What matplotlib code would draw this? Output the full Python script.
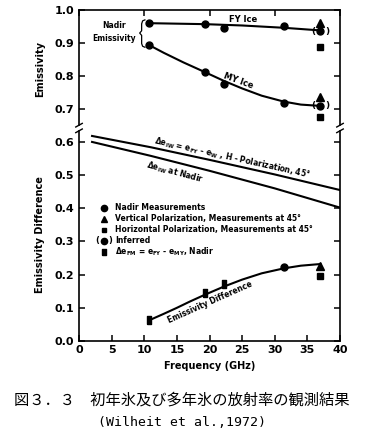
import matplotlib
matplotlib.use("Agg")
import matplotlib.pyplot as plt

plt.rcParams["font.family"] = ["DejaVu Sans"]
plt.rcParams["font.weight"] = "bold"
plt.rcParams["mathtext.default"] = "bf"

# ---- data ----
freq = [10.7, 19.35, 22.2, 31.4, 37.0]

# nadir emissivity (top panel), last point is the inferred value
fy_nadir = [0.960, 0.957, 0.946, 0.951, 0.936]
my_nadir = [0.894, 0.811, 0.776, 0.717, 0.709]

# drawn curves through the points
fy_curve_freq = [10.7, 19.35, 25.0, 31.4, 37.0]
fy_curve = [0.960, 0.957, 0.953, 0.946, 0.938]
my_curve_freq = [10.7, 13.0, 16.0, 19.35, 22.2, 25.0, 28.0, 31.4, 34.0, 37.0]
my_curve = [0.894, 0.870, 0.841, 0.811, 0.785, 0.762, 0.740, 0.722, 0.713, 0.709]

# 37 GHz measurements at 45 deg
pol_freq = [37.0]
fy_vpol = [0.960]
fy_hpol = [0.889]
my_vpol = [0.735]
my_hpol = [0.676]

# ice - water emissivity difference lines
iw_freq = [2, 11, 20, 30, 40]
iw_hpol = [0.618, 0.584, 0.546, 0.502, 0.455]
iw_nadir = [0.600, 0.558, 0.513, 0.460, 0.402]

# FY - MY emissivity difference
diff_freq = [10.7, 19.35, 22.2]
diff_vals = [0.064, 0.144, 0.171]
diff_circ_freq = [31.4]
diff_circ = [0.222]
diff_vpol = [0.225]
diff_hpol = [0.197]
diff_curve_freq = [10.7, 13.0, 15.0, 17.0, 19.35, 22.2, 25.0, 28.0, 31.4, 34.0, 37.0]
diff_curve = [0.062, 0.082, 0.100, 0.119, 0.140, 0.164, 0.185, 0.204, 0.219, 0.227, 0.232]

legend_labels = [
    "Nadir Measurements",
    "Vertical Polarization, Measurements at 45\u00b0",
    "Horizontal Polarization, Measurements at 45\u00b0",
    "Inferred",
    "\u0394e$_{FM}$ = e$_{FY}$ - e$_{MY}$, Nadir",
]
legend_rows = [0.401, 0.368, 0.335, 0.302, 0.269]

bar = [(-0.45, -1), (0.45, -1), (0.45, 1), (-0.45, 1), (-0.45, -1)]

fig = plt.figure(figsize=(3.68, 4.40), dpi=100)
ax1 = fig.add_axes([0.2147, 0.7091, 0.7092, 0.2682])
ax2 = fig.add_axes([0.2147, 0.2250, 0.7092, 0.4841])

LW = 1.5
for ax in (ax1, ax2):
    ax.set_xlim(0, 40)
    for s in ax.spines.values():
        s.set_linewidth(1.2)
    ax.tick_params(direction="in", length=4, width=1.1, labelsize=8,
                   left=True, right=True)

# ---- top panel ----
ax1.set_ylim(0.642, 1.0)
ax1.spines["bottom"].set_visible(False)
ax1.spines["left"].set_bounds(0.650, 1.0)
ax1.spines["right"].set_bounds(0.650, 1.0)
ax1.set_yticks([0.7, 0.8, 0.9, 1.0])
ax1.set_yticklabels(["0.7", "0.8", "0.9", "1.0"], fontweight="bold")
ax1.set_xticks([0, 10, 20, 30, 40])
ax1.tick_params(axis="x", bottom=False, top=True, labelbottom=False)

ax1.plot(fy_curve_freq, fy_curve, color="black", lw=LW)
ax1.plot(my_curve_freq, my_curve, color="black", lw=LW)
ax1.plot(freq, fy_nadir, "o", color="black", ms=5)
ax1.plot(freq, my_nadir, "o", color="black", ms=5)
ax1.plot(pol_freq, fy_vpol, "^", color="black", ms=5.5)
ax1.plot(pol_freq, my_vpol, "^", color="black", ms=5.5)
ax1.plot(pol_freq, fy_hpol, "s", color="black", ms=4)
ax1.plot(pol_freq, my_hpol, "s", color="black", ms=4)
for y in (fy_nadir[-1], my_nadir[-1]):
    ax1.annotate("(", (freq[-1], y), xytext=(-5, 0), textcoords="offset points",
                 ha="center", va="center", fontsize=6.5, fontweight="bold")
    ax1.annotate(")", (freq[-1], y), xytext=(5, 0), textcoords="offset points",
                 ha="center", va="center", fontsize=6.5, fontweight="bold")

ax1.text(25.1, 0.972, "FY Ice", fontsize=6, fontweight="bold", ha="center", va="center")
ax1.text(24.4, 0.784, "MY Ice", fontsize=6, fontweight="bold", ha="center", va="center",
         rotation=-20)
ax1.text(8.7, 0.933, "Nadir\nEmissivity", fontsize=5.5, fontweight="bold",
         ha="right", va="center", multialignment="center", linespacing=1.6)
# brace grouping the two nadir curves
ax1.plot([10.1, 9.75, 9.6, 9.6, 9.3, 9.6, 9.6, 9.75, 10.1],
         [0.970, 0.967, 0.958, 0.937, 0.930, 0.923, 0.898, 0.890, 0.887],
         color="black", lw=0.9, solid_joinstyle="round")
ax1.set_ylabel("Emissivity", fontsize=7, fontweight="bold")
ax1.yaxis.set_label_coords(-0.13, 0.5)

# ---- bottom panel ----
ax2.set_ylim(0, 0.642)
ax2.spines["top"].set_visible(False)
ax2.spines["left"].set_bounds(0, 0.634)
ax2.spines["right"].set_bounds(0, 0.634)
ax2.set_yticks([0.0, 0.1, 0.2, 0.3, 0.4, 0.5, 0.6])
ax2.set_yticklabels(["0.0", "0.1", "0.2", "0.3", "0.4", "0.5", "0.6"], fontweight="bold")
ax2.set_xticks(range(0, 41, 5))
ax2.set_xticklabels([str(v) for v in range(0, 41, 5)], fontweight="bold")
ax2.tick_params(axis="x", top=False, pad=3)

ax2.plot(iw_freq, iw_hpol, color="black", lw=LW)
ax2.plot(iw_freq, iw_nadir, color="black", lw=LW)
ax2.plot(diff_curve_freq, diff_curve, color="black", lw=LW)
ax2.plot(diff_freq, diff_vals, marker=bar, ls="none", color="black", ms=6)
ax2.plot(diff_circ_freq, diff_circ, "o", color="black", ms=5)
ax2.plot(pol_freq, diff_vpol, "^", color="black", ms=5.5)
ax2.plot(pol_freq, diff_hpol, "s", color="black", ms=4)

ax2.text(23.5, 0.551, "\u0394e$_{IW}$ = e$_{FY}$ - e$_{W}$ , H - Polarization, 45\u00b0",
         fontsize=5.5, fontweight="bold", ha="center", va="center", rotation=-12.5)
ax2.text(14.7, 0.508, "\u0394e$_{IW}$ at Nadir", fontsize=5.5, fontweight="bold",
         ha="center", va="center", rotation=-15)
ax2.text(20.1, 0.118, "Emissivity Difference", fontsize=5.5, fontweight="bold",
         ha="center", va="center", rotation=24)

# legend drawn by hand
mk_x = 3.8
ax2.plot([mk_x], [legend_rows[0]], "o", color="black", ms=4.5)
ax2.plot([mk_x], [legend_rows[1]], "^", color="black", ms=5)
ax2.plot([mk_x], [legend_rows[2]], "s", color="black", ms=3.5)
ax2.plot([mk_x], [legend_rows[3]], "o", color="black", ms=4.5)
ax2.plot([mk_x], [legend_rows[4]], marker=bar, ls="none", color="black", ms=5)
ax2.annotate("(", (mk_x, legend_rows[3]), xytext=(-4.5, 0), textcoords="offset points",
             ha="center", va="center", fontsize=6, fontweight="bold")
ax2.annotate(")", (mk_x, legend_rows[3]), xytext=(4.5, 0), textcoords="offset points",
             ha="center", va="center", fontsize=6, fontweight="bold")
for lab, y in zip(legend_labels, legend_rows):
    ax2.text(5.5, y, lab, fontsize=5.5, fontweight="bold", ha="left", va="center")

ax2.set_ylabel("Emissivity Difference", fontsize=7, fontweight="bold")
ax2.yaxis.set_label_coords(-0.13, 0.5)
ax2.set_xlabel("Frequency (GHz)", fontsize=7, fontweight="bold", labelpad=4)

# axis break marks
for x in (0, 40):
    ax1.plot([x - 0.5, x + 0.5], [0.645, 0.656], color="black", lw=1.0, clip_on=False)
    ax2.plot([x - 0.5, x + 0.5], [0.628, 0.639], color="black", lw=1.0, clip_on=False)

# caption
fig.text(0.495, 0.090, "図３．３　初年氷及び多年氷の放射率の観測結果",
         fontsize=11, fontweight="normal", ha="center", va="center",
         family=["Noto Sans CJK JP", "DejaVu Sans"])
fig.text(0.494, 0.039, "(Wilheit et al.,1972)", fontsize=9.5, fontweight="normal",
         ha="center", va="center", family="DejaVu Sans Mono")

fig.savefig("out.png", dpi=100)
